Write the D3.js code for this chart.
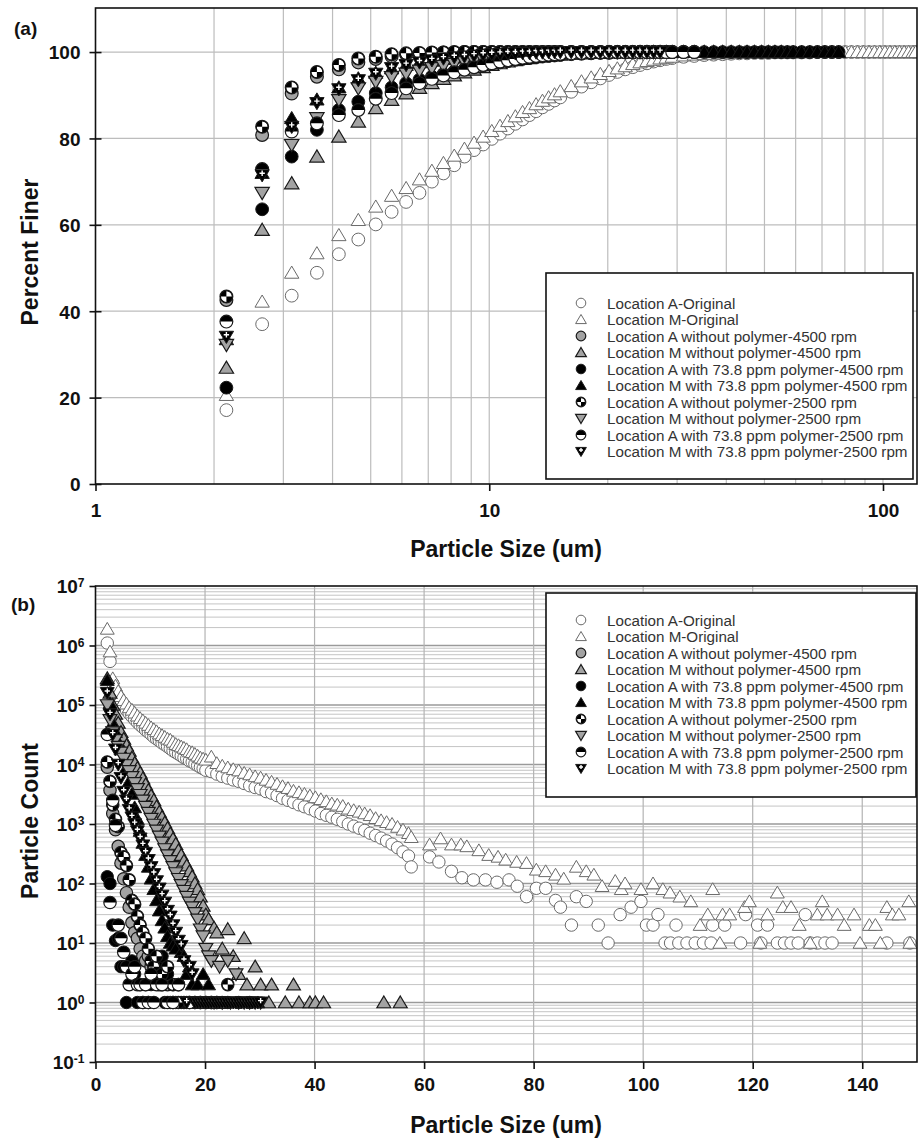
<!DOCTYPE html>
<html lang="en">
<head>
<meta charset="utf-8">
<title>Particle size distribution</title>
<script src="https://d3js.org/d3.v7.min.js"></script>
<style>
  body { margin: 0; background: #fff; }
  svg { display: block; }
  text { font-family: "Liberation Sans", Arial, sans-serif; }
  .tick-label { font-size: 19px; font-weight: bold; fill: #111; }
  .axis-title { font-size: 23px; font-weight: bold; fill: #111; }
  .panel-tag { font-size: 19px; font-weight: bold; fill: #111; }
  .legend text { font-size: 15.2px; fill: #333; }
</style>
</head>
<body>
<script>
// ---- series labels / markers (legend order) ----
var seriesLabels = [
  "Location A-Original",
  "Location M-Original",
  "Location A without polymer-4500 rpm",
  "Location M without polymer-4500 rpm",
  "Location A with 73.8 ppm polymer-4500 rpm",
  "Location M with 73.8 ppm polymer-4500 rpm",
  "Location A without polymer-2500 rpm",
  "Location M without polymer-2500 rpm",
  "Location A with 73.8 ppm polymer-2500 rpm",
  "Location M with 73.8 ppm polymer-2500 rpm"
];
var markerTypes = ["openCircle", "openTriUp", "grayCircle", "grayTriUp", "blackCircle",
                   "blackTriUp", "quarter", "grayTriDown", "half", "plusTriDown"];

// ---- panel (a): percent finer vs particle size (um) ----
var sizesA = [2.15, 2.65, 3.15, 3.65, 4.15, 4.65, 5.15, 5.65, 6.15, 6.65, 7.15, 7.65, 8.15, 8.65,
  9.15, 9.65, 10.15, 10.65, 11.15, 11.65, 12.15, 12.65, 13.15, 13.65, 14.15, 14.65,
  15.15, 16.15, 17.15, 18.15, 19.15, 20.15, 21.15, 22.15, 23.15, 24.15, 25.15, 26.15, 27.15, 28.15, 29.15,
  31.15, 33.15, 35.15, 37.15, 39.15, 41.15, 43.15, 45.15, 47.15, 49.15, 51.15, 53.15, 55.15, 57.15, 59.15,
  62.15, 65.15, 68.15, 71.15, 74.15, 77.15, 80.15, 83.15, 86.15, 89.15, 92.15, 95.15, 98.15, 101.15,
  104.15, 107.15, 110.15, 113.15, 116.15, 119.15, 121.15];

var aOrigFiner = [17.1, 37.0, 43.6, 48.9, 53.2, 56.6, 60.1, 63.0, 65.3, 67.4,
  70.0, 71.9, 73.8, 75.8, 77.3, 78.6, 79.9, 81.1, 82.3, 83.4,
  84.4, 85.4, 86.3, 87.2, 88.0, 88.8, 89.5, 90.8, 92.0, 93.0,
  93.9, 94.7, 95.4, 96.0, 96.5, 97.0, 97.4, 97.8, 98.1, 98.4,
  98.6, 98.9, 99.1, 99.3, 99.4, 99.5, 99.6, 99.7, 99.7, 99.8,
  99.8, 99.8, 99.9, 99.9, 99.9, 99.9, 99.9, 99.9, 100, 100,
  100, 100, 100, 100, 100, 100, 100, 100, 100, 100,
  100, 100, 100, 100, 100, 100, 100];
var mOrigFiner = [20.6, 42.2, 48.9, 53.4, 57.6, 61.1, 64.2, 66.7, 68.5, 70.5,
  72.5, 74.3, 76.0, 77.6, 79.0, 80.4, 81.7, 82.9, 84.0, 85.1,
  86.1, 87.0, 87.9, 88.7, 89.5, 90.2, 90.9, 92.1, 93.2, 94.1,
  94.9, 95.6, 96.2, 96.7, 97.2, 97.6, 97.9, 98.2, 98.5, 98.7,
  98.9, 99.2, 99.4, 99.5, 99.6, 99.7, 99.7, 99.8, 99.8, 99.8,
  99.9, 99.9, 99.9, 99.9, 99.9, 99.9, 99.9, 100, 100, 100,
  100, 100, 100, 100, 100, 100, 100, 100, 100, 100,
  100, 100, 100, 100, 100, 100, 100];
var aNo4500Finer = [42.6, 80.8, 90.4, 94.3, 96.0, 97.6, 98.4, 99.0, 99.4, 99.6,
  99.8, 99.9, 99.9, 100, 100, 100, 100, 100, 100, 100,
  100, 100, 100, 100, 100, 100, 100, 100, 100, 100,
  100, 100, 100, 100, 100, 100, 100, 100, 100, 100, 100];
var mNo4500Finer = [26.9, 58.8, 69.6, 75.8, 80.4, 83.9, 87.0, 88.9, 90.4, 91.7,
  92.8, 93.8, 94.6, 95.3, 95.9, 96.5, 97.0, 97.4, 97.8, 98.1,
  98.4, 98.6, 98.8, 99.0, 99.2, 99.3, 99.4, 99.6, 99.7, 99.8,
  99.8, 99.9, 99.9, 99.9, 99.9, 100, 100, 100, 100, 100,
  100, 100, 100, 100, 100, 100, 100, 100, 100, 100, 100, 100, 100, 100];
var aPoly4500Finer = [22.3, 63.6, 75.8, 82.0, 86.6, 88.5, 90.5, 91.8, 92.8, 93.6,
  94.3, 94.9, 95.5, 96.0, 96.5, 96.9, 97.3, 97.6, 97.9, 98.2,
  98.4, 98.6, 98.8, 99.0, 99.1, 99.2, 99.3, 99.5, 99.6, 99.7,
  99.8, 99.8, 99.9, 99.9, 99.9, 100, 100, 100, 100, 100,
  100, 100, 100, 100, 100, 100, 100, 100, 100, 100,
  100, 100, 100, 100, 100, 100, 100, 100, 100, 100, 100, 100];
var mPoly4500Finer = [33.5, 72.0, 84.7, 89.0, 91.8, 93.9, 95.2, 96.2, 97.0, 97.6,
  98.0, 98.4, 98.7, 98.9, 99.1, 99.3, 99.4, 99.5, 99.6, 99.7,
  99.7, 99.8, 99.8, 99.9, 99.9, 100, 100, 100, 100, 100,
  100, 100, 100, 100, 100, 100, 100, 100, 100, 100,
  100, 100, 100, 100, 100, 100, 100, 100, 100, 100,
  100, 100, 100, 100, 100, 100, 100, 100, 100, 100, 100, 100];
var aNo2500Finer = [43.4, 82.7, 91.8, 95.4, 97.0, 98.5, 98.9, 99.5, 99.7, 99.8,
  99.9, 99.9, 100, 100, 100, 100, 100, 100, 100, 100,
  100, 100, 100, 100, 100, 100, 100, 100, 100, 100,
  100, 100, 100, 100, 100, 100, 100, 100, 100, 100, 100, 100, 100];
var mNo2500Finer = [32.2, 67.4, 78.5, 84.7, 88.9, 91.6, 93.1, 94.2, 95.0, 95.7,
  96.3, 96.8, 97.3, 97.7, 98.0, 98.3, 98.6, 98.8, 99.0, 99.2,
  99.3, 99.4, 99.5, 99.6, 99.7, 99.8, 99.8, 99.9, 99.9, 100,
  100, 100, 100, 100, 100, 100, 100, 100, 100];
var aPoly2500Finer = [37.6, 72.9, 81.6, 83.5, 85.4, 86.6, 89.2, 90.5, 91.6, 92.8,
  93.8, 94.6, 95.3, 95.9, 96.5, 97.0, 97.4, 97.8, 98.1, 98.4,
  98.7, 98.9, 99.1, 99.3, 99.4, 99.5, 99.6, 99.7, 99.8, 99.9,
  99.9, 100, 100, 100, 100, 100, 100, 100, 100, 100, 100, 100, 100];
var mPoly2500Finer = [34.1, 71.5, 82.7, 88.2, 91.4, 93.5, 95.0, 96.3, 97.0, 97.6,
  98.1, 98.5, 98.8, 99.0, 99.2, 99.4, 99.5, 99.6, 99.7, 99.7,
  99.8, 99.8, 99.9, 99.9, 100, 100, 100, 100, 100, 100,
  100, 100, 100, 100, 100, 100, 100, 100, 100];

// ---- panel (b): particle count vs particle size (um) ----
var origSizesB = [2.15, 2.65, 3.15, 3.65, 4.15, 4.65, 5.15, 5.65, 6.15, 6.65, 7.15, 7.65,
  8.15, 8.65, 9.15, 9.65, 10.15, 10.65, 11.15, 11.65, 12.15, 12.65, 13.15, 13.65, 14.15, 14.65,
  15.15, 15.65, 16.15, 16.65, 17.15, 17.65, 18.15, 18.65, 19.15, 19.65,
  20.15, 21.15, 22.15, 23.15, 24.15, 25.15, 26.15, 27.15, 28.15, 29.15, 30.15, 31.15, 32.15,
  33.15, 34.15, 35.15, 36.15, 37.15, 38.15, 39.15, 40.15, 41.15, 42.15, 43.15, 44.15, 45.15,
  46.15, 47.15, 48.15, 49.15, 50.15, 51.15, 52.15, 53.15, 54.15, 55.15, 56.15, 57.15];
var mOrigCount = [1900000, 790000, 280000, 210000, 170000, 140000, 120000, 105000, 91000, 83000,
  74000, 66000, 60000, 55000, 50000, 46000, 42000, 39000, 36000, 33000,
  31000, 29000, 27000, 26000, 24000, 22000, 21000, 20000, 19000, 18000,
  16500, 16000, 15000, 14000, 13000, 12500,
  12000, 13500, 10500, 9500, 8900, 8300, 7900, 7200, 6800, 6300,
  6000, 5500, 5100, 4700, 4300, 4000, 3600, 3400, 3200, 3000,
  2800, 2600, 2400, 2200, 2100, 2000, 1800, 1700, 1600, 1500,
  1400, 1250, 1150, 1070, 1000, 890, 800, 700];
var aOrigCount = [1100000, 540000, 230000, 170000, 135000, 110000, 95000, 82000, 72000, 64000,
  57000, 51000, 46000, 42000, 38000, 35000, 32000, 29000, 27000, 25000,
  23000, 21500, 20000, 18500, 17000, 16000, 15000, 14000, 13000, 12500,
  11500, 11000, 10200, 9600, 9000, 8500,
  8000, 7600, 6900, 6300, 5900, 5500, 5200, 4800, 4400, 4100,
  3900, 3500, 3300, 3000, 2700, 2500, 2300, 2100, 1950, 1800,
  1650, 1500, 1400, 1300, 1200, 1100, 1000, 920, 850, 780,
  700, 640, 580, 520, 460, 400, 340, 290];
var mOrigTailSize = [57.65, 61, 63, 65, 66.7, 67.8, 70, 71.8, 73.5, 74.9,
  76.9, 78.7, 80.5, 82.2, 84, 85.5, 87.8, 89.6, 91, 92.5,
  94.9, 96, 96.7, 99.6, 101.8, 103.6, 104.9, 106.7, 108.7, 110.4,
  111.8, 112.7, 114, 114.5, 115.8, 118.5, 119.4, 121.3, 122.7, 124.5,
  125.5, 127, 128.5, 130.5, 131.8, 132.7, 133.6, 135.5, 136.7, 138.5,
  139.6, 141.3, 142.4, 143.3, 144.5, 145.5, 146.7, 148.5, 148.7];
var mOrigTailCount = [600, 450, 570, 450, 450, 420, 360, 300, 280, 250,
  230, 220, 170, 160, 140, 120, 190, 160, 140, 90,
  110, 80, 100, 80, 100, 80, 70, 60, 50, 20,
  30, 80, 10, 30, 30, 40, 50, 10, 30, 70,
  40, 40, 20, 10, 30, 50, 30, 30, 20, 30,
  10, 20, 20, 10, 40, 30, 30, 50, 10];
var aOrigTailSize = [57.65, 61, 62.7, 65, 66.9, 69, 71.2, 73.3, 75.5, 77,
  78.7, 80.5, 82.2, 84, 84.9, 86.9, 87.8, 89.6, 91.8, 93.6,
  95.8, 97.8, 99.6, 100.6, 101.8, 102.7, 104, 105, 106, 106.5,
  108, 109.5, 111, 112.4, 112.7, 114.9, 117.8, 118.7, 120.9, 121.5,
  122.7, 124.5, 125.8, 127, 128.3, 129.6, 130.5, 131.8, 133.2, 134.5,
  144.5, 148.7];
var aOrigTailCount = [190, 280, 230, 160, 125, 115, 115, 105, 115, 90,
  60, 83, 83, 52, 40, 20, 60, 50, 20, 10,
  30, 40, 50, 20, 20, 30, 10, 10, 20, 10,
  10, 10, 10, 10, 20, 20, 10, 30, 20, 10,
  20, 10, 10, 10, 10, 30, 10, 10, 10, 10,
  10, 10];

var aNo4500Size = [2.15, 2.65, 3.15, 3.65, 4.15, 4.65, 5.15, 5.65, 6.15, 6.65, 7.15, 7.65, 8.15,
  8.65, 9.15, 9.65, 10.15, 10.65, 11.15, 12.15, 13.15, 15.15, 14.15, 16.15, 18.15, 20.15, 22.15];
var aNo4500Count = [9000, 3700, 1500, 800, 420, 220, 120, 70, 40, 22, 15, 12, 8,
  6, 5, 6, 4, 3, 3, 2, 2, 2, 1, 1, 1, 1, 1];
var mNo4500Size = [2.15, 2.65, 3.15, 3.65, 4.15, 4.65, 5.15, 5.65, 6.15, 6.65, 7.15, 7.65,
  8.15, 8.65, 9.15, 9.65, 10.15, 10.65, 11.15, 11.65, 12.15, 12.65, 13.15, 13.65, 14.15, 14.65,
  15.15, 15.65, 16.15, 16.65, 17.15, 17.65, 18.15, 18.65, 19.15, 19.65,
  20.15, 20.65, 21.65, 22.15, 23.15, 24.15, 25.15, 26.15, 27.15, 27.65, 29.15, 30.15, 32.15, 36.15,
  31.65, 34.65, 37.15, 39.15, 40.15, 41.65, 52.65, 55.65];
var mNo4500Count = [280000, 160000, 100000, 71000, 50000, 35000, 27000, 21000, 17000, 13000,
  10500, 8700, 7200, 5800, 4600, 3700, 3000, 2500, 1950, 1600,
  1300, 1050, 850, 690, 560, 460, 360, 300, 240, 200,
  160, 130, 100, 80, 60, 42,
  30, 25, 18, 15, 8, 17, 6, 3, 12, 2, 4, 2, 2, 2,
  1, 1, 1, 1, 1, 1, 1, 1];
var aPoly4500Size = [2.15, 2.65, 3.15, 3.65, 4.15, 4.65, 5.15, 6.15, 6.65, 7.15, 8.15, 9.15,
  10.15, 10.65, 11.15, 11.65, 12.15, 13.15, 14.15,
  5.65, 7.65, 8.65, 9.65, 12.65, 13.65, 14.65, 15.65, 16.65, 18.15, 20.15, 22.15, 24.15, 26.15, 28.15];
var aPoly4500Count = [130, 100, 20, 11, 12, 4, 4, 4, 5, 3, 2, 2,
  2, 3, 4, 5, 6, 3, 2,
  1, 1, 1, 1, 1, 1, 1, 1, 1, 1, 1, 1, 1, 1, 1];
var mPoly4500Size = [2.15, 2.65, 3.15, 3.65, 4.15, 4.65, 5.15, 5.65, 6.15, 6.65, 7.15, 7.65,
  8.15, 8.65, 9.15, 9.65, 10.15, 10.65, 11.15, 11.65, 12.15, 12.65, 13.15, 13.65, 14.15, 14.65,
  15.65, 16.15, 16.65, 17.15, 17.65, 18.65, 19.65, 20.65,
  15.15, 18.15, 19.15, 21.65, 22.65, 23.65, 25.65, 27.65, 29.65];
var mPoly4500Count = [260000, 107000, 50000, 35000, 24000, 17800, 12600, 8900, 5200, 3200,
  1900, 1200, 760, 480, 300, 190, 120, 80, 52, 35,
  24, 18, 13, 10, 9, 8, 7, 6, 3, 4,
  2, 2, 3, 2,
  1, 1, 1, 1, 1, 1, 1, 1, 1];
var aNo2500Size = [2.15, 2.65, 3.15, 3.65, 4.15, 4.65, 5.15, 5.65, 6.15, 6.65, 7.15, 7.65,
  8.15, 8.65, 9.15, 9.65, 10.15, 10.65, 11.15, 11.65, 12.15, 13.15, 14.15, 24.15,
  15.15, 17.15, 19.15, 21.15];
var aNo2500Count = [11000, 5200, 2100, 1200, 900, 330, 280, 200, 115, 52, 45, 28,
  20, 15, 12, 8, 5, 4, 6, 2, 3, 4, 2, 2,
  1, 1, 1, 1];
var mNo2500Size = [2.15, 2.65, 3.15, 3.65, 4.15, 4.65, 5.15, 5.65, 6.15, 6.65, 7.15, 7.65,
  8.15, 8.65, 9.15, 9.65, 10.15, 10.65, 11.15, 11.65, 12.15, 12.65, 13.15, 13.65, 14.15, 14.65,
  15.15, 15.65, 16.15, 16.65, 17.15, 17.65, 18.15, 18.65, 19.15, 19.65,
  20.15, 20.65, 21.15, 22.65, 24.15, 25.65,
  21.65, 23.15, 24.65, 26.15, 27.15, 28.15, 29.15, 30.15];
var mNo2500Count = [100000, 56000, 35000, 26000, 20000, 16000, 12600, 9800, 7800, 6200,
  4900, 3900, 3100, 2500, 1950, 1550, 1230, 980, 780, 620,
  490, 380, 300, 240, 190, 150, 120, 95, 76, 60,
  48, 40, 32, 25, 17, 13,
  8, 6, 5, 4, 5, 3,
  1, 1, 1, 1, 1, 1, 1, 1];
var aPoly2500Size = [2.15, 2.65, 3.15, 3.65, 4.15, 4.65, 5.15, 5.65, 6.15, 6.65, 7.15, 7.65,
  8.15, 9.15, 10.15, 11.15, 12.15, 15.15,
  8.65, 9.65, 10.65, 13.15, 14.15, 17.15, 19.15, 21.15, 23.15];
var aPoly2500Count = [32000, 48, 2500, 950, 20, 12, 7, 4, 2, 3, 4, 2,
  2, 2, 3, 2, 2, 2,
  1, 1, 1, 1, 1, 1, 1, 1, 1];
var mPoly2500Size = [2.15, 2.65, 3.15, 3.65, 4.15, 4.65, 5.15, 5.65, 6.15, 6.65, 7.15, 7.65,
  8.15, 8.65, 9.15, 9.65, 10.15, 10.65, 11.15, 11.65, 12.15, 12.65, 13.15, 13.65, 14.15, 14.65,
  15.15, 15.65, 16.15, 17.15, 17.65,
  16.65, 18.15, 18.65, 19.15, 19.65, 20.15, 20.65, 21.15, 21.65, 22.15, 22.65, 23.15, 23.65,
  24.15, 24.65, 25.15, 25.65, 26.15, 26.65, 27.15, 27.65, 28.15, 28.65, 29.15, 29.65, 30.15];
var mPoly2500Count = [160000, 70000, 32000, 18000, 10000, 6000, 3500, 2500, 1740, 1300,
  1000, 760, 575, 440, 330, 250, 190, 145, 110, 83,
  63, 48, 35, 28, 20, 15, 11, 9, 5, 4, 3,
  1, 1, 1, 1, 1, 1, 1, 1, 1, 1, 1, 1, 1,
  1, 1, 1, 1, 1, 1, 1, 1, 1, 1, 1, 1, 1];

// axis ticks
var finerTicks = [0, 20, 40, 60, 80, 100];
var logSizeTicks = [1, 10, 100];
var countTicks = [1e-1, 1e0, 1e1, 1e2, 1e3, 1e4, 1e5, 1e6, 1e7];
var sizeTicksB = [0, 20, 40, 60, 80, 100, 120, 140];

// ---- layout ----
var w = 921, h = 1139;
var pa = {left: 95.5, right: 917, top: 8, bottom: 484};
var pb = {left: 95.5, right: 917, top: 586, bottom: 1062};

var svg = d3.select("body").append("svg")
    .attr("width", w)
    .attr("height", h);

svg.append("rect").attr("width", w).attr("height", h).attr("fill", "#fff");

var defs = svg.append("defs");
defs.append("clipPath").attr("id", "clipA").append("rect")
    .attr("x", pa.left).attr("y", pa.top)
    .attr("width", pa.right - pa.left).attr("height", pa.bottom - pa.top);
defs.append("clipPath").attr("id", "clipB").append("rect")
    .attr("x", pb.left).attr("y", pb.top)
    .attr("width", pb.right - pb.left).attr("height", pb.bottom - pb.top);

// scales
var xA = d3.scaleLog().domain([1, 122]).range([pa.left, pa.right]);
var yA = d3.scaleLinear().domain([0, 110.2]).range([pa.bottom, pa.top]);
var xB = d3.scaleLinear().domain([0, 150]).range([pb.left, pb.right]);
var yB = d3.scaleLog().domain([0.1, 1e7]).range([pb.bottom, pb.top]);

// ---- marker drawing ----
function triPath(r, up) {
  var s = up ? 1 : -1;
  return "M0," + (-1.05 * r * s) + " L" + (1.12 * r) + "," + (0.85 * r * s) +
         " L" + (-1.12 * r) + "," + (0.85 * r * s) + " Z";
}
function drawMarker(g, type, r) {
  var dark = "#1a1a1a", gray = "#a3a3a3", line = "#6a6a6a";
  if (type === "openCircle") {
    g.append("circle").attr("r", r).attr("fill", "#fff").attr("stroke", line).attr("stroke-width", 1);
  } else if (type === "openTriUp") {
    g.append("path").attr("d", triPath(r, true)).attr("fill", "#fff").attr("stroke", line).attr("stroke-width", 1);
  } else if (type === "grayCircle") {
    g.append("circle").attr("r", r).attr("fill", gray).attr("stroke", dark).attr("stroke-width", 1.2);
  } else if (type === "grayTriUp") {
    g.append("path").attr("d", triPath(r, true)).attr("fill", gray).attr("stroke", dark).attr("stroke-width", 1.2);
  } else if (type === "blackCircle") {
    g.append("circle").attr("r", r).attr("fill", "#000").attr("stroke", dark);
  } else if (type === "blackTriUp") {
    g.append("path").attr("d", triPath(r, true)).attr("fill", "#000").attr("stroke", dark);
  } else if (type === "quarter") {
    g.append("circle").attr("r", r).attr("fill", "#000");
    var q = r - 1;
    g.append("path").attr("fill", "#fff")
      .attr("d", "M0,0 L0," + (-q) + " A" + q + "," + q + " 0 0 1 " + q + ",0 Z" +
                 " M0,0 L0," + q + " A" + q + "," + q + " 0 0 1 " + (-q) + ",0 Z");
    g.append("circle").attr("r", r).attr("fill", "none").attr("stroke", dark).attr("stroke-width", 1.2);
  } else if (type === "grayTriDown") {
    g.append("path").attr("d", triPath(r, false)).attr("fill", gray).attr("stroke", dark).attr("stroke-width", 1.2);
  } else if (type === "half") {
    g.append("circle").attr("r", r).attr("fill", "#fff");
    g.append("path").attr("fill", "#000")
      .attr("d", "M" + (-r) + ",0 A" + r + "," + r + " 0 0 1 " + r + ",0 Z");
    g.append("circle").attr("r", r).attr("fill", "none").attr("stroke", dark).attr("stroke-width", 1.2);
  } else if (type === "plusTriDown") {
    g.append("path").attr("d", triPath(r, false)).attr("fill", "#000").attr("stroke", dark);
    var p = r * 0.42, cy = -r * 0.3;
    g.append("path").attr("stroke", "#fff").attr("stroke-width", 1.4).attr("fill", "none")
      .attr("d", "M" + (-p) + "," + cy + " H" + p + " M0," + (cy - p) + " V" + (cy + p));
  }
}

function plotSeries(layer, points, type, x, y, r) {
  layer.append("g").selectAll("g")
    .data(points)
    .enter().append("g")
      .attr("transform", function(d) { return "translate(" + x(d[0]) + "," + y(d[1]) + ")"; })
      .each(function() { drawMarker(d3.select(this), type, r); });
}

// =================== PANEL (a) ===================
var gA = svg.append("g");

// grid
var minorA = [2, 3, 4, 5, 6, 7, 8, 9, 10, 20, 30, 40, 50, 60, 70, 80, 90, 100];
gA.append("g").selectAll("line").data(minorA).enter().append("line")
    .attr("x1", function(d) { return xA(d); }).attr("x2", function(d) { return xA(d); })
    .attr("y1", pa.top).attr("y2", pa.bottom)
    .attr("stroke", "#bdbdbd").attr("stroke-width", 1.2);
gA.append("g").selectAll("line").data(finerTicks.slice(1)).enter().append("line")
    .attr("x1", pa.left).attr("x2", pa.right)
    .attr("y1", function(d) { return yA(d); }).attr("y2", function(d) { return yA(d); })
    .attr("stroke", "#bdbdbd").attr("stroke-width", 1.2);

// markers
var finerA = [aOrigFiner, mOrigFiner, aNo4500Finer, mNo4500Finer, aPoly4500Finer,
              mPoly4500Finer, aNo2500Finer, mNo2500Finer, aPoly2500Finer, mPoly2500Finer];
var markA = gA.append("g").attr("clip-path", "url(#clipA)");
finerA.forEach(function(vals, i) {
  plotSeries(markA, d3.zip(sizesA, vals), markerTypes[i], xA, yA, 6.4);
});

// frame
gA.append("rect").attr("x", pa.left).attr("y", pa.top)
    .attr("width", pa.right - pa.left).attr("height", pa.bottom - pa.top)
    .attr("fill", "none").attr("stroke", "#111").attr("stroke-width", 1.6);

// axes
var axA_y = d3.axisLeft(yA).tickValues(finerTicks).tickSize(6).tickPadding(9).tickFormat(d3.format("d"));
var gyA = gA.append("g").attr("transform", "translate(" + pa.left + ",0)").call(axA_y);
gyA.select(".domain").remove();
gyA.selectAll(".tick line").attr("x2", -6).attr("x1", 6).attr("stroke", "#111").attr("stroke-width", 1.6);
gyA.selectAll(".tick text").attr("class", "tick-label").attr("x", -15).attr("dy", "0.36em");

var axA_x = d3.axisBottom(xA).tickValues(logSizeTicks).tickSize(7).tickPadding(12).tickFormat(d3.format("d"));
var gxA = gA.append("g").attr("transform", "translate(0," + pa.bottom + ")").call(axA_x);
gxA.select(".domain").remove();
gxA.selectAll(".tick line").attr("stroke", "#111").attr("stroke-width", 1.6);
gxA.selectAll(".tick text").attr("class", "tick-label").attr("y", 20).attr("dy", "0.71em");

svg.append("text").attr("class", "axis-title").attr("text-anchor", "middle")
    .attr("x", 506).attr("y", 557).text("Particle Size (um)");
svg.append("text").attr("class", "axis-title").attr("text-anchor", "middle")
    .attr("transform", "translate(38,252) rotate(-90)").text("Percent Finer");
svg.append("text").attr("class", "panel-tag").attr("x", 14).attr("y", 35).text("(a)");

// =================== PANEL (b) ===================
var gB = svg.append("g");

var minorB = [];
countTicks.forEach(function(t) {
  if (t >= 1e7) return;
  for (var k = 2; k <= 9; k++) minorB.push(t * k);
});
gB.append("g").selectAll("line").data(minorB).enter().append("line")
    .attr("x1", pb.left).attr("x2", pb.right)
    .attr("y1", function(d) { return yB(d); }).attr("y2", function(d) { return yB(d); })
    .attr("stroke", "#c4c4c4").attr("stroke-width", 1);
gB.append("g").selectAll("line").data(countTicks.slice(1, -1)).enter().append("line")
    .attr("x1", pb.left).attr("x2", pb.right)
    .attr("y1", function(d) { return yB(d); }).attr("y2", function(d) { return yB(d); })
    .attr("stroke", "#9a9a9a").attr("stroke-width", 1.3);
gB.append("g").selectAll("line").data(sizeTicksB.slice(1)).enter().append("line")
    .attr("x1", function(d) { return xB(d); }).attr("x2", function(d) { return xB(d); })
    .attr("y1", pb.top).attr("y2", pb.bottom)
    .attr("stroke", "#b3b3b3").attr("stroke-width", 1.2);

var pointsB = [
  d3.zip(origSizesB, aOrigCount).concat(d3.zip(aOrigTailSize, aOrigTailCount)),
  d3.zip(origSizesB, mOrigCount).concat(d3.zip(mOrigTailSize, mOrigTailCount)),
  d3.zip(aNo4500Size, aNo4500Count),
  d3.zip(mNo4500Size, mNo4500Count),
  d3.zip(aPoly4500Size, aPoly4500Count),
  d3.zip(mPoly4500Size, mPoly4500Count),
  d3.zip(aNo2500Size, aNo2500Count),
  d3.zip(mNo2500Size, mNo2500Count),
  d3.zip(aPoly2500Size, aPoly2500Count),
  d3.zip(mPoly2500Size, mPoly2500Count)
];
var markB = gB.append("g").attr("clip-path", "url(#clipB)");
pointsB.forEach(function(pts, i) {
  plotSeries(markB, pts, markerTypes[i], xB, yB, 6.2);
});

gB.append("rect").attr("x", pb.left).attr("y", pb.top)
    .attr("width", pb.right - pb.left).attr("height", pb.bottom - pb.top)
    .attr("fill", "none").attr("stroke", "#111").attr("stroke-width", 1.6);

// y axis with superscript labels
var axB_y = d3.axisLeft(yB).tickValues(countTicks).tickSize(6).tickFormat("");
var gyB = gB.append("g").attr("transform", "translate(" + pb.left + ",0)").call(axB_y);
gyB.select(".domain").remove();
gyB.selectAll(".tick line").attr("stroke", "#111").attr("stroke-width", 1.6);
gyB.selectAll(".tick").each(function(d) {
  var t = d3.select(this).append("text").attr("class", "tick-label")
      .attr("text-anchor", "end").attr("x", -11).attr("y", 0).attr("dy", "0.36em").attr("fill", "#111");
  t.append("tspan").text("10");
  t.append("tspan").attr("dy", "-0.5em").attr("font-size", "12px").text(Math.round(Math.log10(d)));
});

var axB_x = d3.axisBottom(xB).tickValues(sizeTicksB).tickSize(7).tickPadding(12).tickFormat(d3.format("d"));
var gxB = gB.append("g").attr("transform", "translate(0," + pb.bottom + ")").call(axB_x);
gxB.select(".domain").remove();
gxB.selectAll(".tick line").attr("stroke", "#111").attr("stroke-width", 1.6);
gxB.selectAll(".tick text").attr("class", "tick-label").attr("y", 16).attr("dy", "0.71em");

svg.append("text").attr("class", "axis-title").attr("text-anchor", "middle")
    .attr("x", 506).attr("y", 1133).text("Particle Size (um)");
svg.append("text").attr("class", "axis-title").attr("text-anchor", "middle")
    .attr("transform", "translate(38,821) rotate(-90)").text("Particle Count");
svg.append("text").attr("class", "panel-tag").attr("x", 11).attr("y", 611).text("(b)");

// =================== legends ===================
function legend(x0, y0, boxW, boxH, firstRow) {
  var lg = svg.append("g").attr("class", "legend");
  lg.append("rect").attr("x", x0).attr("y", y0).attr("width", boxW).attr("height", boxH)
      .attr("fill", "#fff").attr("stroke", "#111").attr("stroke-width", 1.6);
  var rows = lg.selectAll("g.row").data(seriesLabels).enter().append("g")
      .attr("class", "row")
      .attr("transform", function(d, i) { return "translate(" + (x0 + 35) + "," + (firstRow + i * 16.5) + ")"; });
  rows.each(function(d, i) { drawMarker(d3.select(this), markerTypes[i], 4.8); });
  rows.append("text").attr("x", 26).attr("y", 5.5).text(function(d) { return d; });
}
legend(546, 273, 367, 206, 303);
legend(546, 593, 370, 204, 620);
</script>
</body>
</html>
